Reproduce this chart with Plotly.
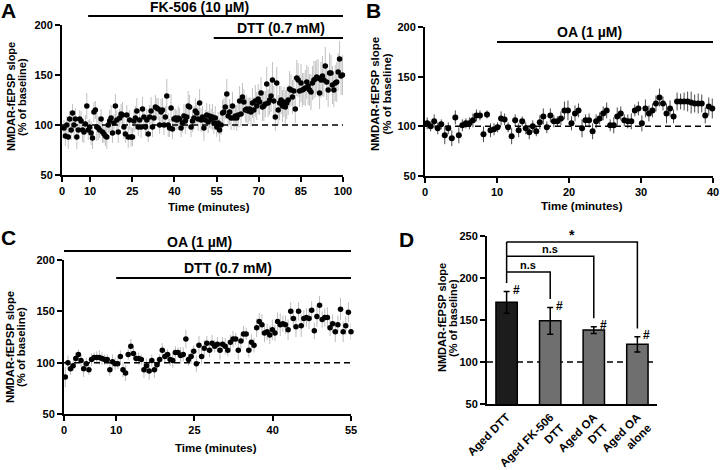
import plotly.graph_objects as go
import numpy as np

FONT = "Liberation Sans, Arial, sans-serif"

# ---- panel A: FK-506 (10 uM) from 10 min, DTT (0.7 mM) from 55 min ----
a_slope = [97, 89, 100, 88, 106, 95, 112, 100, 106, 88, 95, 106, 104, 95, 93, 101, 119, 95, 98, 92,
           87, 113, 115, 98, 97, 95, 106, 93, 91, 89, 88, 100, 104, 107, 92, 102, 119, 105, 93, 107,
           111, 110, 98, 91, 110, 88, 105,
           88, 88, 104, 107, 114, 98, 105, 98, 116, 108, 98, 105, 91, 108, 114, 98, 107, 118, 117, 116,
           100, 113, 115, 100, 108, 129, 100, 97, 117, 96, 106, 107, 105, 107, 106, 97, 102, 109, 104, 108,
           119, 118, 98, 104, 107, 114, 112, 106, 122,
           105, 108, 97, 105, 110, 103, 109, 106, 108, 102, 107, 98, 102, 95, 100, 112, 113, 118, 131, 109,
           113, 107, 119, 107, 109, 107, 110, 124, 111, 128, 123, 115, 116, 114, 116, 113, 122, 115, 124, 119,
           126, 123, 132, 118, 119, 121, 141, 122, 125, 129, 145, 124,
           108, 142, 115, 122, 125, 119, 123, 118, 122, 125, 136, 135, 128, 134, 116, 147, 145, 134, 142, 135,
           136, 137, 143, 139, 135, 133, 142, 145, 146, 148, 147, 132, 145, 149, 145, 159, 143, 135, 152, 152,
           140, 135, 142, 143, 153, 166, 149, 150]
a_err = [8, 10, 9, 12, 8, 10, 9, 14, 11, 12, 8, 9, 10, 12, 11, 9, 13, 10, 8, 12,
         11, 10, 9, 14, 12, 8, 10, 11, 9, 10, 12, 8, 11, 13, 10, 9, 12, 10, 11, 9,
         10, 13, 12, 9, 10, 11, 10,
         10, 9, 11, 12, 13, 9, 10, 11, 12, 10, 9, 11, 8, 12, 14, 10, 11, 12, 10, 11,
         9, 13, 12, 10, 11, 17, 12, 9, 14, 10, 11, 9, 10, 12, 11, 9, 10, 12, 13, 11,
         15, 12, 10, 11, 12, 13, 10, 12, 14,
         12, 11, 13, 10, 12, 11, 12, 10, 13, 11, 12, 10, 11, 12, 10, 13, 14, 12, 15, 11,
         13, 12, 14, 12, 11, 13, 12, 15, 12, 14, 13, 12, 14, 13, 12, 14, 15, 13, 16, 14,
         15, 13, 16, 14, 15, 13, 17, 14, 15, 16, 18, 15,
         14, 16, 15, 17, 14, 16, 15, 17, 16, 15, 18, 16, 17, 15, 14, 18, 17, 16, 19, 17,
         16, 18, 17, 19, 16, 18, 17, 19, 18, 17, 19, 16, 18, 20, 17, 19, 18, 17, 20, 18,
         19, 17, 18, 20, 19, 18, 19, 20]
a_time = np.linspace(0.7, 99.8, len(a_slope))
a_ticks = [0, 10, 25, 40, 55, 70, 85, 100]

# ---- panel B: OA (1 uM) from 10 min ----
b_slope = [103, 100, 105, 98, 102, 91, 98, 88, 109, 91, 101, 103, 103, 106, 111, 111, 92, 112, 96, 97,
           99, 108, 107, 99, 90, 106, 96, 105, 98, 94, 100, 95, 104, 110, 99, 111, 105, 105, 108, 116,
           116, 103,
           113, 116, 98, 106, 106, 95, 105, 108, 113, 116, 101, 101, 110, 113, 106, 105, 105, 116, 118, 103,
           118, 113, 116, 123, 129, 123, 113, 118, 110, 125, 125, 125, 125, 124, 123, 123, 123, 111, 120, 118]
b_err = [6, 5, 7, 6, 5, 9, 6, 8, 7, 8, 6, 5, 6, 7, 6, 5, 8, 4, 7, 6,
         5, 7, 6, 5, 8, 6, 7, 5, 6, 7, 6, 5, 7, 8, 6, 7, 6, 5, 7, 9,
         10, 7,
         8, 7, 9, 6, 7, 8, 7, 6, 7, 8, 6, 8, 9, 7, 6, 7, 8, 6, 7, 8,
         9, 8, 7, 8, 9, 7, 10, 8, 7, 9, 8, 9, 10, 11, 9, 10, 9, 8, 9, 10]
b_time = np.linspace(0.3, 39.9, len(b_slope))
b_ticks = [0, 10, 20, 30, 40]

# ---- panel C: OA (1 uM) from 0 min, DTT (0.7 mM) from 10 min ----
c_slope = [86, 100, 94, 97, 104, 108, 102, 94, 99, 93, 103, 105, 105, 105, 104, 103, 103, 93, 101, 99,
           99, 106, 93, 90, 108, 116, 109, 104, 104, 103, 93, 97, 92, 102, 93, 98, 103, 112, 106, 108,
           103, 102, 110, 110, 107, 108, 123, 103, 106, 111, 99, 117, 106, 114, 119,
           112, 119, 116, 118, 112, 118, 116, 112, 120, 123, 123, 112, 121, 128, 128, 112, 120, 117, 134, 140,
           137, 129, 130, 127, 132, 129, 140, 137, 138, 137, 132, 150, 143, 135, 150, 136, 143, 144, 143, 151,
           131, 145, 156, 142, 144, 144, 134, 138, 130, 137, 152, 130, 136, 149, 130]
c_err = [10, 7, 6, 5, 6, 5, 6, 8, 6, 5, 6, 5, 6, 7, 6, 5, 5, 6, 7, 6,
         5, 6, 7, 8, 6, 7, 6, 5, 6, 5, 8, 7, 9, 6, 8, 6, 5, 7, 6, 5,
         6, 7, 6, 5, 8, 7, 9, 6, 7, 6, 8, 9, 7, 8, 7,
         7, 8, 6, 7, 9, 7, 8, 6, 7, 8, 6, 9, 7, 8, 6, 7, 8, 7, 9, 8,
         10, 9, 8, 9, 10, 8, 9, 11, 8, 9, 10, 9, 8, 10, 9, 11, 8, 9, 10, 9,
         8, 10, 9, 8, 9, 10, 8, 9, 10, 9, 11, 10, 9, 10, 8]
c_time = np.linspace(0.25, 55, len(c_slope))
c_ticks = [0, 10, 25, 40, 55]

# ---- panel D: summary ----
d_groups = ["Aged DTT", "Aged FK-506<br>DTT", "Aged OA<br>DTT", "Aged OA<br>alone"]
d_mean = [171, 149, 138, 121]
d_err = [13, 16, 4, 9]
d_colors = ["#1c1c1c", "#6f6f6f", "#6f6f6f", "#6f6f6f"]
d_compare = [(1, "n.s", 207), (2, "n.s", 226), (3, "*", 243)]

W, H = 720, 470
D_LO, D_HI = 50, 250


def px(x):
    return x / W


def py(y):
    return 1 - y / H


axis_style = dict(showline=True, linecolor="black", linewidth=2, ticks="outside", ticklen=5,
                  tickwidth=2, tickcolor="black", showgrid=False, zeroline=False,
                  ticklabeloverflow="allow",
                  tickfont=dict(family=FONT, size=11, color="black", weight="bold"))

fig = go.Figure()

for t, v, e, ax, ecol, msize in [(a_time, a_slope, a_err, "", "#c2c2c2", 5.5),
                                 (b_time, b_slope, b_err, "2", "#4a4a4a", 6),
                                 (c_time, c_slope, c_err, "3", "#bdbdbd", 5.5)]:
    fig.add_trace(go.Scatter(x=t, y=v, mode="markers", xaxis="x" + ax, yaxis="y" + ax,
                             marker=dict(color="black", size=msize),
                             error_y=dict(type="data", array=e, color=ecol, thickness=1, width=0),
                             cliponaxis=False, showlegend=False))

fig.add_trace(go.Bar(x=[0, 1, 2, 3], y=d_mean, xaxis="x4", yaxis="y4", width=0.49,
                     marker=dict(color=d_colors, line=dict(color="black", width=1.5)),
                     error_y=dict(type="data", array=d_err, color="black", thickness=1.5, width=3),
                     showlegend=False))

fig.update_layout(
    width=W, height=H, margin=dict(l=0, r=0, t=0, b=0, autoexpand=False),
    paper_bgcolor="white", plot_bgcolor="white",
    font=dict(family=FONT, color="black"),
    xaxis=dict(domain=[px(62), px(343)], range=[0, 100], tickvals=a_ticks, anchor="y", **axis_style),
    yaxis=dict(domain=[py(175), py(25)], range=[50, 200], tickvals=[50, 100, 150, 200], anchor="x", **axis_style),
    xaxis2=dict(domain=[px(425), px(713)], range=[0, 40], tickvals=b_ticks, anchor="y2", **axis_style),
    yaxis2=dict(domain=[py(176), py(27)], range=[50, 200], tickvals=[50, 100, 150, 200], anchor="x2", **axis_style),
    xaxis3=dict(domain=[px(64), px(351)], range=[0, 55], tickvals=c_ticks, anchor="y3", **axis_style),
    yaxis3=dict(domain=[py(414), py(260)], range=[50, 200], tickvals=[50, 100, 150, 200], anchor="x3", **axis_style),
    xaxis4=dict(domain=[px(487), px(657)], range=[-0.45, 3.45], tickvals=[0, 1, 2, 3], ticktext=d_groups,
                tickangle=-45, anchor="y4",
                **{**axis_style, "ticks": "",
                   "tickfont": dict(family=FONT, size=11.5, color="black", weight="bold")}),
    yaxis4=dict(domain=[py(404), py(236)], range=[D_LO, D_HI], tickvals=[50, 100, 150, 200, 250], anchor="x4", **axis_style),
)

shapes = []
ann = []


def note(text, xref, yref, x, y, size, **kw):
    ann.append(dict(text=text, xref=xref, yref=yref, x=x, y=y, showarrow=False,
                    xanchor="center", yanchor="middle", font=dict(size=size, weight="bold"), **kw))


# baseline dashed lines
for ax, x0, x1 in [("", 0, 100), ("2", 0, 40), ("3", 0, 55), ("4", -0.45, 3.45)]:
    shapes.append(dict(type="line", xref="x" + ax, yref="y" + ax, x0=x0, x1=x1, y0=100, y1=100,
                       line=dict(color="black", width=1.5, dash="6px,4px"),
                       layer="below" if ax == "4" else "above"))


# treatment bars
def treat(ax, x0, x1, yline, label, xlab, ylab):
    shapes.append(dict(type="line", xref="x" + ax, yref="paper", x0=x0, x1=x1, y0=py(yline), y1=py(yline),
                       line=dict(color="black", width=2)))
    note(label, "x" + ax, "paper", xlab, py(ylab), 14)


treat("", 9.3, 100, 16, "FK-506 (10 µM)", 49, 7)
treat("", 54, 100, 38, "DTT (0.7 mM)", 78, 28)
treat("2", 10, 40, 42, "OA (1 µM)", 22.9, 32)
treat("3", 0, 55, 251, "OA (1 µM)", 26, 242)
treat("3", 10, 55, 278, "DTT (0.7 mM)", 31.4, 268)


def d_frac(v):
    # value on panel D's y scale -> fraction of its domain (may exceed 1)
    return (v - D_LO) / (D_HI - D_LO)


# significance brackets in D
for j, lab, ytop in d_compare:
    yend = d_mean[j] + d_err[j] + 10
    shapes.append(dict(type="path", xref="x4", yref="y4",
                       path=f"M 0 {ytop} L {j} {ytop} L {j} {yend}",
                       line=dict(color="black", width=1.5)))
    note(lab, "x4", "y4 domain", j / 2, d_frac(ytop + 8), 14 if lab == "*" else 11)
shapes.append(dict(type="line", xref="x4", yref="y4", x0=0, x1=0,
                   y0=d_mean[0] + d_err[0] + 10, y1=max(c[2] for c in d_compare),
                   line=dict(color="black", width=1.5)))
for i in range(4):
    note("#", "x4", "y4 domain", i + 0.22, d_frac(d_mean[i] + d_err[i] + 2), 12)

# panel letters
for letter, x, y in [("A", 8, 10), ("B", 373, 10), ("C", 8, 237), ("D", 406, 240)]:
    note(letter, "paper", "paper", px(x), py(y), 21)


# axis titles
def ytitle(x1, x2, yc, size=11):
    for x, txt in [(x1, "NMDAR-fEPSP slope"), (x2, "(% of baseline)")]:
        note(txt, "paper", "paper", px(x), py(yc), size, textangle=-90)


ytitle(11, 22, 97)
ytitle(375, 386.5, 94, 11.5)
ytitle(10, 21, 347, 11.3)
ytitle(442, 453, 318)
for x, y in [(209, 207), (582, 206), (216, 448)]:
    note("Time (minutes)", "paper", "paper", px(x), py(y), 11.5)

fig.update_layout(shapes=shapes, annotations=ann)
# the page's default body margin would push the 720x470 figure off the window
fig.write_html("out.html", config={"displayModeBar": False},
               post_script="document.body.style.margin = '0';")
